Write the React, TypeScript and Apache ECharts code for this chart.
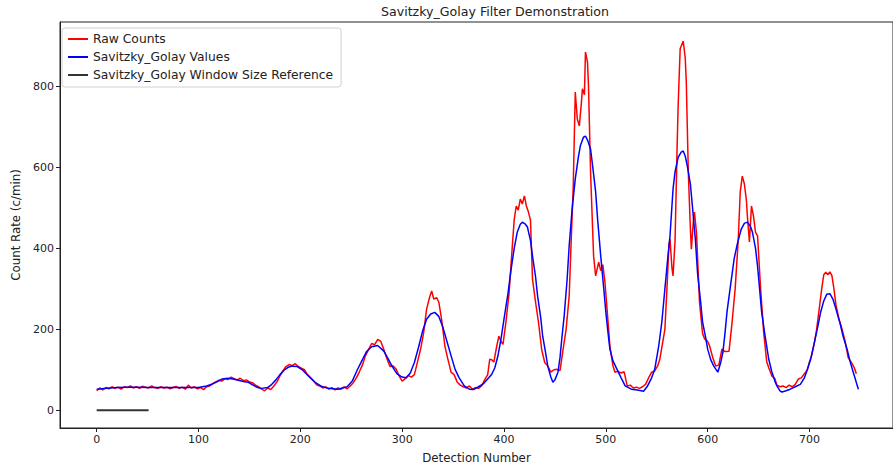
import React, { useEffect, useRef } from "react";
import * as echarts from "echarts";

// Raw detector counts as [detection number, count rate]
const rawCounts: [number, number][] = [
  [0, 48], [3, 55], [6, 50], [9, 56], [12, 53], [15, 58], [18, 54], [21, 57], [24, 52], [27, 58],
  [30, 56], [33, 60], [36, 55], [39, 58], [42, 54], [45, 59], [48, 57], [51, 55], [54, 60], [57, 56],
  [60, 54], [63, 58], [66, 55], [69, 57], [72, 53], [75, 56], [78, 59], [81, 54], [84, 57], [87, 52],
  [90, 62], [93, 55], [96, 58], [99, 53], [102, 56], [105, 51], [108, 58], [111, 60], [114, 66], [117, 70],
  [120, 74], [123, 72], [126, 78], [129, 76], [132, 82], [135, 78], [138, 75], [141, 79], [144, 73], [147, 75],
  [150, 70], [153, 68], [156, 62], [159, 58], [162, 52], [165, 48], [168, 55], [171, 51], [174, 60], [177, 70],
  [180, 85], [183, 98], [186, 108], [189, 113], [192, 110], [195, 115], [198, 108], [201, 104], [204, 100], [207, 88],
  [210, 80], [213, 72], [216, 63], [219, 60], [222, 55], [225, 58], [228, 52], [231, 56], [234, 50], [237, 55],
  [240, 52], [243, 58], [246, 53], [249, 60], [252, 68], [255, 80], [258, 95], [261, 112], [264, 135], [267, 150],
  [270, 165], [273, 162], [276, 175], [279, 170], [282, 150], [285, 128], [288, 108], [291, 110], [294, 102], [297, 85],
  [300, 72], [303, 78], [306, 86], [309, 82], [312, 88], [315, 119], [318, 150], [321, 190], [324, 250], [327, 280],
  [329, 295], [331, 275], [334, 278], [336, 267], [339, 220], [342, 158], [345, 125], [348, 94], [351, 88], [354, 70],
  [357, 62], [360, 58], [363, 55], [366, 60], [369, 52], [372, 56], [375, 54], [378, 60], [381, 75], [384, 88],
  [386, 126], [388, 125], [390, 119], [393, 160], [395, 183], [397, 170], [399, 163], [402, 220], [405, 290], [408, 400],
  [410, 470], [412, 505], [414, 495], [416, 522], [418, 510], [420, 530], [422, 505], [424, 490], [426, 470], [428, 324],
  [431, 267], [434, 215], [437, 150], [440, 118], [443, 109], [446, 94], [449, 100], [452, 101], [455, 98], [458, 150],
  [461, 200], [464, 282], [466, 420], [468, 554], [470, 787], [472, 720], [474, 703], [476, 760], [477, 795], [479, 780],
  [480, 886], [482, 861], [483, 800], [485, 589], [487, 450], [488, 381], [490, 332], [492, 355], [493, 366], [495, 345],
  [497, 360], [499, 320], [501, 257], [504, 158], [507, 110], [509, 94], [512, 96], [515, 92], [518, 95], [521, 60],
  [524, 62], [527, 55], [530, 57], [533, 54], [536, 58], [539, 64], [542, 80], [545, 94], [548, 97], [551, 110],
  [553, 126], [556, 170], [558, 200], [560, 300], [562, 410], [563, 423], [565, 350], [566, 332], [568, 420], [570, 650],
  [571, 752], [573, 894], [576, 913], [578, 870], [579, 812], [581, 589], [583, 450], [584, 398], [586, 470], [587, 490],
  [589, 440], [592, 267], [595, 190], [597, 176], [600, 170], [602, 158], [605, 130], [608, 109], [611, 112], [614, 151],
  [617, 145], [621, 146], [624, 218], [627, 300], [630, 420], [632, 540], [634, 579], [636, 560], [638, 520], [639, 480],
  [641, 416], [643, 505], [645, 480], [647, 440], [649, 431], [652, 300], [655, 193], [658, 120], [660, 105], [663, 85],
  [666, 78], [668, 62], [671, 58], [674, 60], [677, 56], [680, 62], [683, 58], [686, 64], [689, 77], [692, 80],
  [695, 90], [698, 101], [700, 120], [702, 134], [705, 170], [707, 200], [710, 260], [712, 300], [714, 335], [716, 341],
  [718, 335], [720, 342], [722, 333], [724, 300], [726, 260], [729, 225], [732, 200], [735, 170], [738, 130], [741, 119],
  [744, 105], [746, 90],
];

// Savitzky-Golay smoothed values as [detection number, count rate]
const sgValues: [number, number][] = [
  [0, 52], [10, 54], [20, 56], [30, 57], [40, 57], [50, 56], [60, 56], [70, 56], [80, 56], [90, 56],
  [100, 56], [108, 60], [113, 64], [118, 70], [123, 77], [129, 79], [134, 77], [139, 74], [144, 71], [149, 69],
  [153, 63], [158, 56], [162, 54], [168, 56], [172, 64], [176, 75], [180, 88], [184, 99], [188, 106], [192, 109],
  [197, 108], [202, 100], [205, 92], [210, 80], [215, 68], [220, 60], [227, 54], [237, 52], [246, 58], [251, 72],
  [256, 100], [260, 120], [265, 145], [270, 157], [276, 160], [282, 146], [286, 128], [290, 109], [295, 90], [300, 82],
  [304, 80], [308, 92], [312, 118], [316, 155], [320, 195], [324, 225], [328, 238], [332, 242], [336, 232], [340, 205],
  [344, 170], [348, 135], [352, 101], [356, 80], [361, 60], [366, 52], [370, 51], [375, 58], [380, 66], [385, 80],
  [388, 89], [391, 105], [394, 134], [397, 175], [400, 225], [404, 290], [407, 349], [410, 400], [413, 440], [416, 460],
  [418, 465], [421, 460], [423, 453], [426, 420], [428, 381], [431, 330], [433, 282], [436, 230], [438, 183], [441, 140],
  [443, 109], [446, 82], [448, 69], [450, 75], [453, 94], [455, 130], [457, 183], [459, 230], [462, 324], [464, 406],
  [467, 500], [470, 572], [473, 625], [475, 654], [478, 675], [480, 678], [482, 668], [485, 646], [487, 605], [490, 540],
  [492, 470], [495, 381], [498, 300], [500, 243], [502, 195], [504, 151], [507, 122], [511, 101], [515, 80], [519, 60],
  [525, 52], [531, 50], [537, 47], [541, 60], [545, 80], [548, 101], [552, 160], [555, 218], [558, 300], [561, 381],
  [563, 430], [566, 547], [568, 590], [571, 625], [574, 638], [576, 641], [578, 628], [580, 604], [583, 560], [585, 505],
  [588, 420], [590, 341], [593, 270], [595, 218], [598, 180], [600, 151], [603, 125], [606, 109], [610, 94], [613, 120],
  [615, 144], [617, 190], [619, 243], [622, 300], [626, 374], [629, 410], [633, 448], [636, 462], [639, 465], [642, 455],
  [644, 440], [647, 400], [649, 356], [651, 300], [653, 243], [656, 190], [660, 126], [663, 95], [666, 72], [668, 60],
  [671, 48], [673, 45], [677, 48], [681, 52], [686, 58], [691, 64], [695, 80], [697, 94], [701, 125], [704, 158],
  [708, 205], [711, 243], [714, 270], [717, 287], [720, 288], [723, 275], [726, 250], [730, 215], [733, 183], [737, 150],
  [740, 119], [744, 85], [748, 52],
];

// Filter window length drawn as a reference bar on the zero line
const windowReference: [number, number][] = [
  [0, 0],
  [51, 0],
];

const xTicks = [0, 100, 200, 300, 400, 500, 600, 700];
const yTicks = [0, 200, 400, 600, 800];

const FONT = "DejaVu Sans";
const INK = "#222222";

export default function App() {
  const ref = useRef<HTMLDivElement>(null);

  useEffect(() => {
    if (!ref.current) return;
    const chart = echarts.init(ref.current, undefined, { renderer: "svg" });
    const lineSeries = (name: string, data: [number, number][], color: string, width: number) => ({
      name,
      type: "line",
      data,
      showSymbol: false,
      symbol: "none",
      clip: true,
      lineStyle: { color, width },
      itemStyle: { color },
      emphasis: { disabled: true },
    });
    chart.setOption({
      animation: false,
      backgroundColor: "#ffffff",
      title: {
        text: "Savitzky_Golay Filter Demonstration",
        left: 490,
        textAlign: "center",
        top: 0,
        textStyle: { fontFamily: FONT, fontSize: 12.6, fontWeight: "normal", color: INK },
      },
      legend: {
        orient: "vertical",
        left: 62,
        top: 28,
        padding: [4, 8, 5, 6],
        itemGap: 4,
        itemWidth: 20,
        itemHeight: 2,
        icon: "rect",
        backgroundColor: "rgba(255,255,255,0.85)",
        borderColor: "#d0d0d0",
        borderWidth: 1,
        borderRadius: 3,
        textStyle: { fontFamily: FONT, fontSize: 12.3, color: INK, lineHeight: 14 },
        data: ["Raw Counts", "Savitzky_Golay Values", "Savitzky_Golay Window Size Reference"],
      },
      grid: {
        left: 60,
        top: 22,
        right: -7,
        bottom: 43,
        show: true,
        borderColor: INK,
        borderWidth: 1,
        backgroundColor: "transparent",
      },
      xAxis: {
        type: "value",
        min: -36,
        max: 782,
        name: "Detection Number",
        nameLocation: "middle",
        nameGap: 24,
        nameTextStyle: { fontFamily: FONT, fontSize: 11.8, color: INK },
        axisLine: { show: true, onZero: false, lineStyle: { color: INK, width: 1 } },
        axisTick: { show: true, length: 4, customValues: xTicks, lineStyle: { color: INK } },
        axisLabel: { customValues: xTicks, fontFamily: FONT, fontSize: 11, color: INK, margin: 6 },
        splitLine: { show: false },
      },
      yAxis: {
        type: "value",
        min: -44,
        max: 960,
        name: "Count Rate (c/min)",
        nameLocation: "middle",
        nameGap: 38,
        nameTextStyle: { fontFamily: FONT, fontSize: 11.8, color: INK },
        axisLine: { show: true, onZero: false, lineStyle: { color: INK, width: 1 } },
        axisTick: { show: true, length: 4, customValues: yTicks, lineStyle: { color: INK } },
        axisLabel: { customValues: yTicks, fontFamily: FONT, fontSize: 11, color: INK, margin: 6 },
        splitLine: { show: false },
      },
      series: [
        lineSeries("Raw Counts", rawCounts, "#ff0000", 1.5),
        lineSeries("Savitzky_Golay Values", sgValues, "#0000ff", 1.5),
        lineSeries("Savitzky_Golay Window Size Reference", windowReference, "#333333", 2),
      ],
    });
    return () => chart.dispose();
  }, []);

  return (
    <div
      ref={ref}
      style={{ position: "absolute", left: 0, top: 0, width: 893, height: 471, background: "#fff" }}
    />
  );
}
